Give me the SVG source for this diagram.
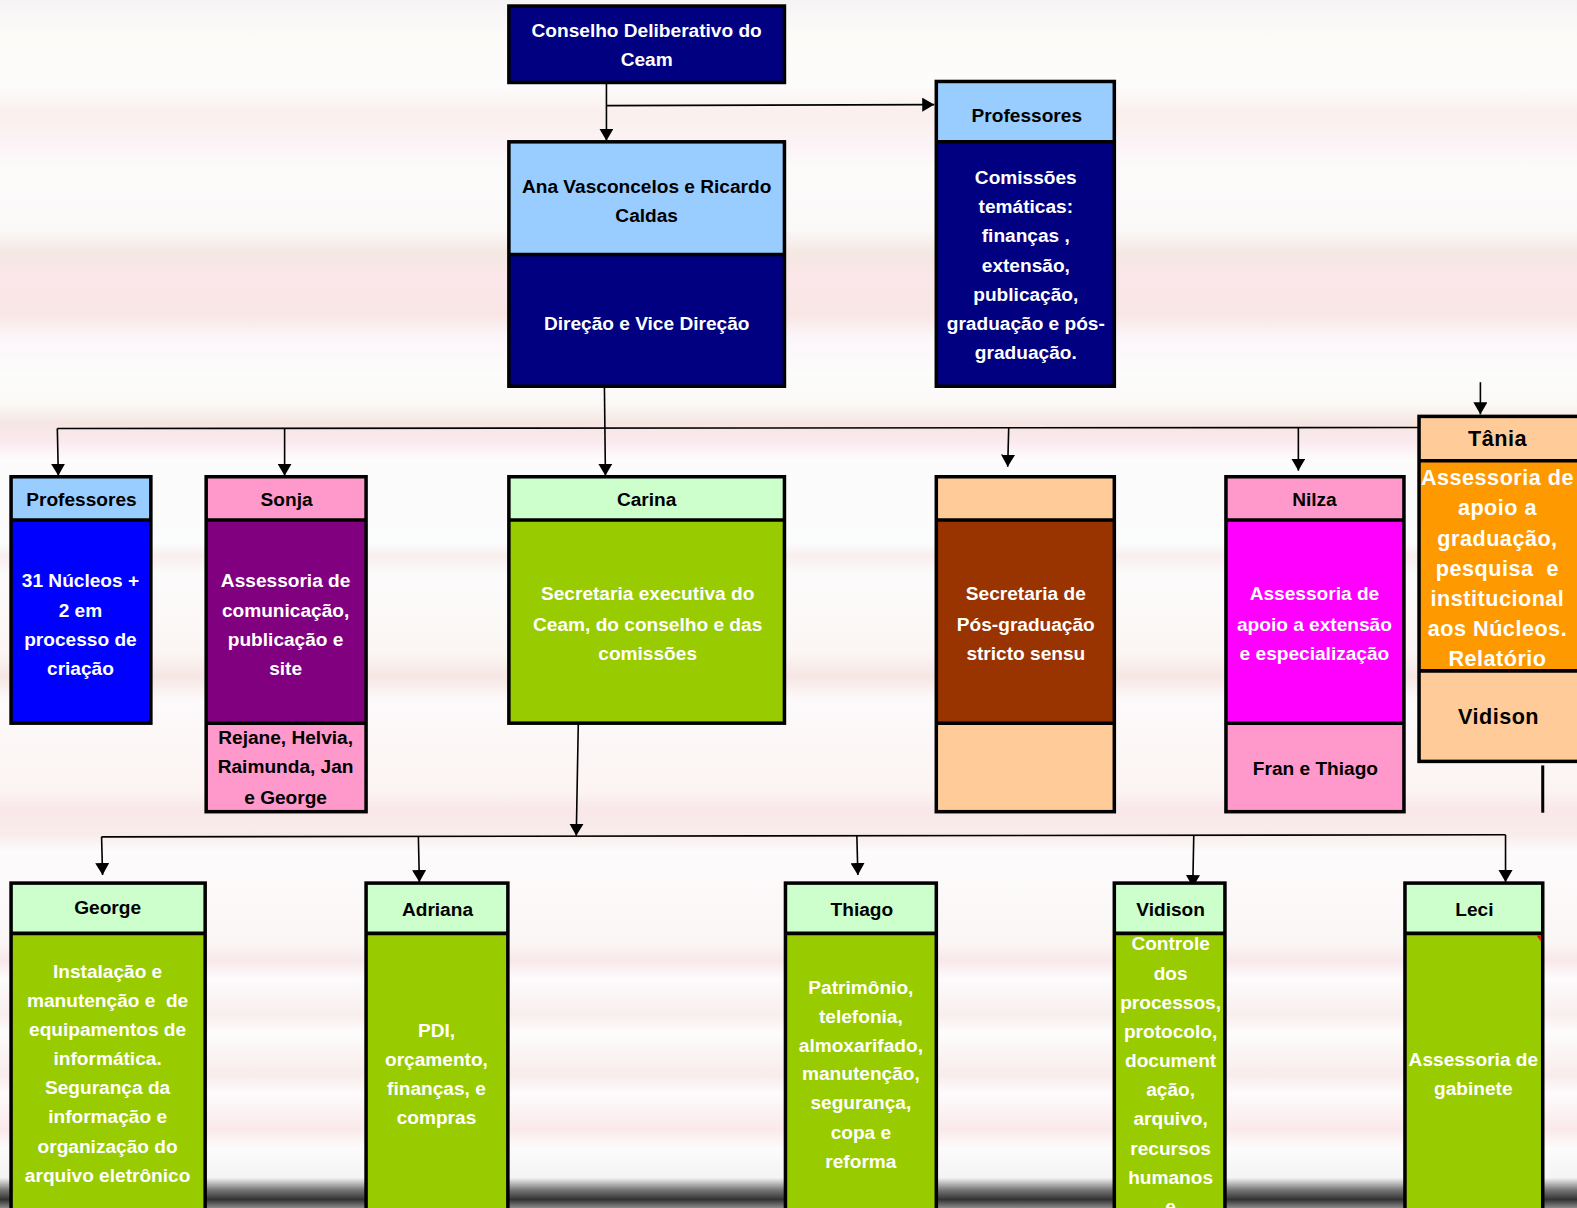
<svg xmlns="http://www.w3.org/2000/svg" width="1577" height="1208" viewBox="0 0 1577 1208">
<defs>
<linearGradient id="bg" x1="0" y1="0" x2="0" y2="1208" gradientUnits="userSpaceOnUse">
<stop offset="0" stop-color="#f6f3f5"/>
<stop offset="0.03" stop-color="#fcfbf8"/>
<stop offset="0.07" stop-color="#fdfcfc"/>
<stop offset="0.095" stop-color="#f9efec"/>
<stop offset="0.12" stop-color="#fcf3f6"/>
<stop offset="0.14" stop-color="#fcfbfa"/>
<stop offset="0.19" stop-color="#fbf8f8"/>
<stop offset="0.21" stop-color="#f3e8e2"/>
<stop offset="0.23" stop-color="#fbe6ea"/>
<stop offset="0.26" stop-color="#f8e6e4"/>
<stop offset="0.28" stop-color="#fcf6fa"/>
<stop offset="0.31" stop-color="#fcfcfb"/>
<stop offset="0.335" stop-color="#fbf8f6"/>
<stop offset="0.35" stop-color="#f5e6e2"/>
<stop offset="0.365" stop-color="#fae9ee"/>
<stop offset="0.38" stop-color="#fdfbfb"/>
<stop offset="0.45" stop-color="#fbfcfd"/>
<stop offset="0.46" stop-color="#f9eeee"/>
<stop offset="0.475" stop-color="#fcfbfb"/>
<stop offset="0.54" stop-color="#fbf6f4"/>
<stop offset="0.56" stop-color="#f6e6e4"/>
<stop offset="0.58" stop-color="#fdfafb"/>
<stop offset="0.655" stop-color="#fbf4f2"/>
<stop offset="0.67" stop-color="#f9e7ea"/>
<stop offset="0.69" stop-color="#f8ecea"/>
<stop offset="0.705" stop-color="#fdfbfc"/>
<stop offset="0.78" stop-color="#fbf6f6"/>
<stop offset="0.795" stop-color="#f8e8ea"/>
<stop offset="0.81" stop-color="#fdfbfc"/>
<stop offset="0.84" stop-color="#f9eeee"/>
<stop offset="0.855" stop-color="#fdfcfc"/>
<stop offset="0.89" stop-color="#f8eceb"/>
<stop offset="0.905" stop-color="#fdfbfc"/>
<stop offset="0.935" stop-color="#fae9ea"/>
<stop offset="0.95" stop-color="#fdfbfb"/>
<stop offset="0.975" stop-color="#f4f4f4"/>
<stop offset="0.985" stop-color="#777777"/>
<stop offset="0.993" stop-color="#333333"/>
<stop offset="1" stop-color="#8a8a8a"/>
</linearGradient>
<marker id="ah" viewBox="0 0 12 14" refX="12" refY="7" markerWidth="12" markerHeight="14" markerUnits="userSpaceOnUse" orient="auto">
<path d="M0,0 L12,7 L0,14 Z" fill="#000"/>
</marker>
<style>
.box{stroke:#000;stroke-width:3.5}
.div{stroke:#000;stroke-width:3.5}
.c{fill:none;stroke:#000;stroke-width:1.6}
.ca{fill:none;stroke:#000;stroke-width:1.6;marker-end:url(#ah)}
text{font-family:"Liberation Sans",Arial,sans-serif;font-weight:bold;font-size:19px;text-anchor:middle}
.w{fill:#fff}
.k{fill:#000}
.big{font-size:21.5px;letter-spacing:0.5px}
</style>
</defs>
<rect x="0" y="0" width="1577" height="1208" fill="url(#bg)"/>
<g transform="scale(1.0057,1.0058)">
<g id="connectors">
<path class="ca" d="M603,83 L603,140"/>
<path class="ca" d="M603,105 L929,104"/>
<path class="c" d="M57,426 L1411,425"/>
<path class="ca" d="M601,385 L602,473"/>
<path class="ca" d="M57,426 L58,473"/>
<path class="ca" d="M283,426 L283,473"/>
<path class="ca" d="M1003,425 L1002,464"/>
<path class="ca" d="M1291,425 L1291,468"/>
<path class="ca" d="M1472,380 L1472,412"/>
<path d="M1534,761 L1534,808" fill="none" stroke="#000" stroke-width="3"/>
<path class="ca" d="M575,720 L573,831"/>
<path class="c" d="M101,832 L1497,830"/>
<path class="ca" d="M101,832 L102,870"/>
<path class="ca" d="M416,832 L417,877"/>
<path class="ca" d="M852,831 L853,870"/>
<path class="ca" d="M1187,831 L1186,882"/>
<path class="ca" d="M1497,830 L1497,877"/>
</g>

<g id="conselho">
<rect class="box" x="506" y="6" width="274" height="76" fill="#000080"/>
<text class="w" x="643" y="37">Conselho Deliberativo do</text>
<text class="w" x="643" y="66">Ceam</text>
</g>

<g id="direcao">
<rect x="506" y="141" width="274" height="112" fill="#99CCFF"/>
<rect x="506" y="253" width="274" height="131" fill="#000080"/>
<line class="div" x1="506" y1="253" x2="780" y2="253"/>
<rect class="box" x="506" y="141" width="274" height="243" fill="none"/>
<text class="k" x="643" y="192">Ana Vasconcelos e Ricardo</text>
<text class="k" x="643" y="221">Caldas</text>
<text class="w" x="643" y="328">Direção e Vice Direção</text>
</g>

<g id="professores-comissoes">
<rect x="931" y="81" width="177" height="60" fill="#99CCFF"/>
<rect x="931" y="141" width="177" height="243" fill="#000080"/>
<line class="div" x1="931" y1="141" x2="1108" y2="141"/>
<rect class="box" x="931" y="81" width="177" height="303" fill="none"/>
<text class="k" x="1021" y="121">Professores</text>
<text class="w" x="1020" y="183">Comissões</text>
<text class="w" x="1020" y="212">temáticas:</text>
<text class="w" x="1020" y="241">finanças ,</text>
<text class="w" x="1020" y="270">extensão,</text>
<text class="w" x="1020" y="299">publicação,</text>
<text class="w" x="1020" y="328">graduação e pós-</text>
<text class="w" x="1020" y="357">graduação.</text>
</g>

<g id="professores-nucleos">
<rect x="11" y="474" width="139" height="43" fill="#99CCFF"/>
<rect x="11" y="517" width="139" height="202" fill="#0000FF"/>
<line class="div" x1="11" y1="517" x2="150" y2="517"/>
<rect class="box" x="11" y="474" width="139" height="245" fill="none"/>
<text class="k" x="81" y="503">Professores</text>
<text class="w" x="80" y="584">31 Núcleos +</text>
<text class="w" x="80" y="613">2 em</text>
<text class="w" x="80" y="642">processo de</text>
<text class="w" x="80" y="671">criação</text>
</g>

<g id="sonja">
<rect x="205" y="474" width="159" height="43" fill="#FF99CC"/>
<rect x="205" y="517" width="159" height="202" fill="#800080"/>
<rect x="205" y="719" width="159" height="88" fill="#FF99CC"/>
<line class="div" x1="205" y1="517" x2="364" y2="517"/>
<line class="div" x1="205" y1="719" x2="364" y2="719"/>
<rect class="box" x="205" y="474" width="159" height="333" fill="none"/>
<text class="k" x="285" y="503">Sonja</text>
<text class="w" x="284" y="584">Assessoria de</text>
<text class="w" x="284" y="613">comunicação,</text>
<text class="w" x="284" y="642">publicação e</text>
<text class="w" x="284" y="671">site</text>
<text class="k" x="284" y="740">Rejane, Helvia,</text>
<text class="k" x="284" y="769">Raimunda, Jan</text>
<text class="k" x="284" y="799">e George</text>
</g>

<g id="carina">
<rect x="506" y="474" width="274" height="43" fill="#CCFFCC"/>
<rect x="506" y="517" width="274" height="202" fill="#99CC00"/>
<line class="div" x1="506" y1="517" x2="780" y2="517"/>
<rect class="box" x="506" y="474" width="274" height="245" fill="none"/>
<text class="k" x="643" y="503">Carina</text>
<text class="w" x="644" y="597">Secretaria executiva do</text>
<text class="w" x="644" y="627">Ceam, do conselho e das</text>
<text class="w" x="644" y="656">comissões</text>
</g>

<g id="pos-graduacao">
<rect x="931" y="474" width="177" height="43" fill="#FFCC99"/>
<rect x="931" y="517" width="177" height="202" fill="#993300"/>
<rect x="931" y="719" width="177" height="88" fill="#FFCC99"/>
<line class="div" x1="931" y1="517" x2="1108" y2="517"/>
<line class="div" x1="931" y1="719" x2="1108" y2="719"/>
<rect class="box" x="931" y="474" width="177" height="333" fill="none"/>
<text class="w" x="1020" y="597">Secretaria de</text>
<text class="w" x="1020" y="627">Pós-graduação</text>
<text class="w" x="1020" y="656">stricto sensu</text>
</g>

<g id="nilza">
<rect x="1219" y="474" width="177" height="43" fill="#FF99CC"/>
<rect x="1219" y="517" width="177" height="202" fill="#FF00FF"/>
<rect x="1219" y="719" width="177" height="88" fill="#FF99CC"/>
<line class="div" x1="1219" y1="517" x2="1396" y2="517"/>
<line class="div" x1="1219" y1="719" x2="1396" y2="719"/>
<rect class="box" x="1219" y="474" width="177" height="333" fill="none"/>
<text class="k" x="1307" y="503">Nilza</text>
<text class="w" x="1307" y="597">Assessoria de</text>
<text class="w" x="1307" y="627">apoio a extensão</text>
<text class="w" x="1307" y="656">e especialização</text>
<text class="k" x="1308" y="771">Fran e Thiago</text>
</g>

<g id="tania">
<rect x="1411" y="414" width="164" height="44" fill="#FFCC99"/>
<rect x="1411" y="458" width="164" height="209" fill="#FF9900"/>
<rect x="1411" y="667" width="164" height="90" fill="#FFCC99"/>
<line class="div" x1="1411" y1="458" x2="1575" y2="458"/>
<line class="div" x1="1411" y1="667" x2="1575" y2="667"/>
<rect class="box" x="1411" y="414" width="164" height="343" fill="none"/>
<text class="k big" x="1489" y="443">Tânia</text>
<text class="w big" x="1489" y="482">Assessoria de</text>
<text class="w big" x="1489" y="512">apoio a</text>
<text class="w big" x="1489" y="543">graduação,</text>
<text class="w big" x="1489" y="573" xml:space="preserve">pesquisa  e</text>
<text class="w big" x="1489" y="603">institucional</text>
<text class="w big" x="1489" y="632">aos Núcleos.</text>
<text class="w big" x="1489" y="662">Relatório</text>
<text class="k big" x="1490" y="720">Vidison</text>
</g>

<g id="george">
<rect x="11" y="878" width="193" height="50" fill="#CCFFCC"/>
<rect x="11" y="928" width="193" height="300" fill="#99CC00"/>
<line class="div" x1="11" y1="928" x2="204" y2="928"/>
<rect class="box" x="11" y="878" width="193" height="350" fill="none"/>
<text class="k" x="107" y="909">George</text>
<text class="w" x="107" y="972">Instalação e</text>
<text class="w" x="107" y="1001" xml:space="preserve">manutenção e  de</text>
<text class="w" x="107" y="1030">equipamentos de</text>
<text class="w" x="107" y="1059">informática.</text>
<text class="w" x="107" y="1088">Segurança da</text>
<text class="w" x="107" y="1117">informação e</text>
<text class="w" x="107" y="1146">organização do</text>
<text class="w" x="107" y="1175">arquivo eletrônico</text>
</g>

<g id="adriana">
<rect x="364" y="878" width="141" height="50" fill="#CCFFCC"/>
<rect x="364" y="928" width="141" height="300" fill="#99CC00"/>
<line class="div" x1="364" y1="928" x2="505" y2="928"/>
<rect class="box" x="364" y="878" width="141" height="350" fill="none"/>
<text class="k" x="435" y="911">Adriana</text>
<text class="w" x="434" y="1031">PDI,</text>
<text class="w" x="434" y="1060">orçamento,</text>
<text class="w" x="434" y="1089">finanças, e</text>
<text class="w" x="434" y="1118">compras</text>
</g>

<g id="thiago">
<rect x="781" y="878" width="150" height="50" fill="#CCFFCC"/>
<rect x="781" y="928" width="150" height="300" fill="#99CC00"/>
<line class="div" x1="781" y1="928" x2="931" y2="928"/>
<rect class="box" x="781" y="878" width="150" height="350" fill="none"/>
<text class="k" x="857" y="911">Thiago</text>
<text class="w" x="856" y="988">Patrimônio,</text>
<text class="w" x="856" y="1017">telefonia,</text>
<text class="w" x="856" y="1046">almoxarifado,</text>
<text class="w" x="856" y="1074">manutenção,</text>
<text class="w" x="856" y="1103">segurança,</text>
<text class="w" x="856" y="1132">copa e</text>
<text class="w" x="856" y="1161">reforma</text>
</g>

<g id="vidison">
<rect x="1108" y="878" width="110" height="50" fill="#CCFFCC"/>
<rect x="1108" y="928" width="110" height="300" fill="#99CC00"/>
<line class="div" x1="1108" y1="928" x2="1218" y2="928"/>
<rect class="box" x="1108" y="878" width="110" height="350" fill="none"/>
<text class="k" x="1164" y="911">Vidison</text>
<text class="w" x="1164" y="945">Controle</text>
<text class="w" x="1164" y="974">dos</text>
<text class="w" x="1164" y="1003">processos,</text>
<text class="w" x="1164" y="1032">protocolo,</text>
<text class="w" x="1164" y="1061">document</text>
<text class="w" x="1164" y="1090">ação,</text>
<text class="w" x="1164" y="1119">arquivo,</text>
<text class="w" x="1164" y="1148">recursos</text>
<text class="w" x="1164" y="1177">humanos</text>
<text class="w" x="1164" y="1206">e</text>
</g>

<g id="leci">
<rect x="1397" y="878" width="137" height="50" fill="#CCFFCC"/>
<rect x="1397" y="928" width="137" height="300" fill="#99CC00"/>
<line class="div" x1="1397" y1="928" x2="1534" y2="928"/>
<rect class="box" x="1397" y="878" width="137" height="350" fill="none"/>
<polygon points="1528,930 1532,930 1532,936" fill="#ff0000"/>
<text class="k" x="1466" y="911">Leci</text>
<text class="w" x="1465" y="1060">Assessoria de</text>
<text class="w" x="1465" y="1089">gabinete</text>
</g>
</g>
</svg>
